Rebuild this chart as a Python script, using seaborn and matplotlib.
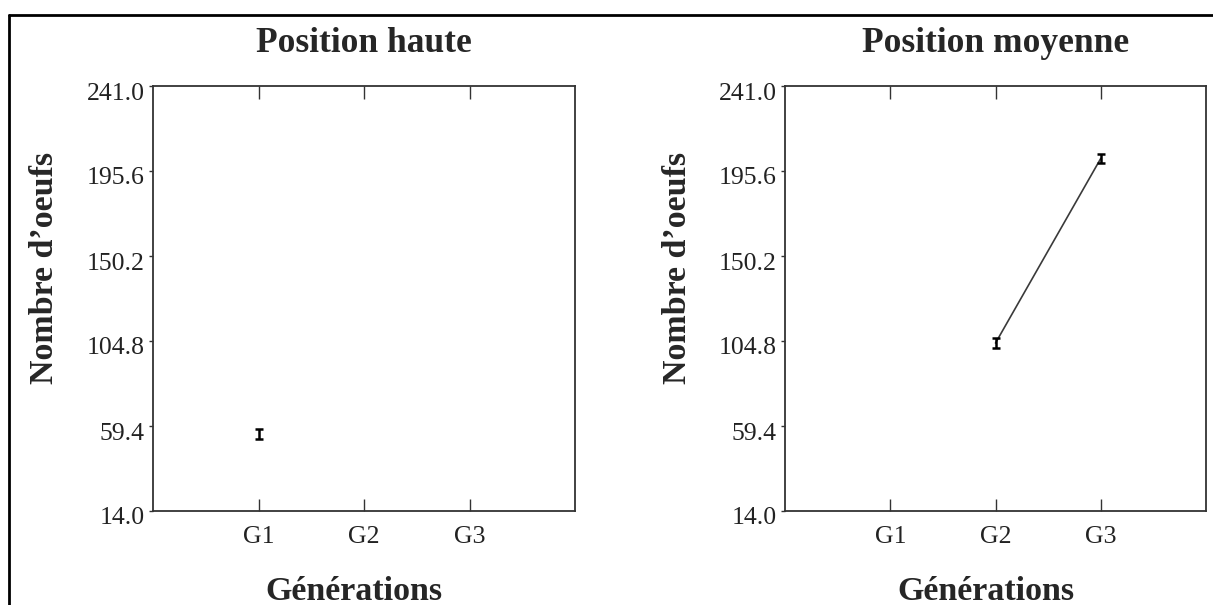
import numpy as np
import pandas as pd
import matplotlib
matplotlib.use("Agg")
import matplotlib.pyplot as plt
import matplotlib.transforms as mtransforms
from matplotlib.lines import Line2D
import seaborn as sns

# values
generations = ["G1", "G2", "G3"]
haute_mean = [55.1, np.nan, np.nan]
haute_err = [2.6, np.nan, np.nan]
moyenne_mean = [np.nan, 103.7, 202.3]
moyenne_err = [np.nan, 2.6, 2.4]
y_ticks = [14.0, 59.4, 104.8, 150.2, 195.6, 241.0]
panel_titles = ["Position haute", "Position moyenne"]

sns.set_style("ticks")
plt.rcParams['font.family'] = ['Liberation Serif', 'DejaVu Serif']

W, H = 1213, 605
fig = plt.figure(figsize=(W / 100, H / 100), dpi=100)

# axes boxes in pixels: left, top, right, bottom
boxes = [(153, 86, 575, 511), (785, 86, 1206, 511)]
series = [(haute_mean, haute_err), (moyenne_mean, moyenne_err)]
pos = np.arange(1, len(generations) + 1)

for box, (means, errs), title in zip(boxes, series, panel_titles):
    l, t, r, b = box
    ax = fig.add_axes([l / W, (H - b) / H, (r - l) / W, (b - t) / H])
    df = pd.DataFrame({"pos": pos, "mean": means, "err": errs}).dropna()

    sns.lineplot(data=df, x="pos", y="mean", ax=ax, color="#3a3a3a",
                 linewidth=1.2, estimator=None)
    ax.errorbar(df["pos"], df["mean"], yerr=df["err"], fmt="none",
                ecolor="black", elinewidth=1.8, capsize=3, capthick=1.8)

    ax.set_xlim(0, 4)
    ax.set_ylim(y_ticks[0], y_ticks[-1])
    ax.set_xticks(pos)
    ax.set_xticklabels(generations)
    ax.set_yticks(y_ticks)
    ax.set_yticklabels([f"{v:.1f}" for v in y_ticks])
    ax.set_xlabel("")
    ax.set_ylabel("")

    ax.tick_params(axis="x", which="both", direction="in", length=9, width=1,
                   top=True, bottom=True, labelsize=18.5, pad=11, colors="#333333",
                   labelcolor="#222222")
    ax.tick_params(axis="y", direction="out", length=3, width=1, pad=3,
                   labelsize=18.5, colors="#333333", labelcolor="#222222")
    # labels sit a bit below their ticks in the original
    off = mtransforms.ScaledTranslation(0, -5 / 100, fig.dpi_scale_trans)
    for lab in ax.get_yticklabels():
        lab.set_transform(lab.get_transform() + off)

    for sp in ax.spines.values():
        sp.set_color("#333333")
        sp.set_linewidth(1.3)

    ax.text(0.5, 1 + (t - 52) / (b - t), title, transform=ax.transAxes,
            ha="center", va="baseline", fontsize=25.5, fontweight="bold")
    ax.text((354 - 153) / 422, -(600 - b) / (b - t), "Générations",
            transform=ax.transAxes, ha="center", va="baseline",
            fontsize=24.5, fontweight="bold")
    ax.text(-(l - 45 - (l - 153) * 0) / (r - l) if False else -(153 - 45) / 422,
            (b - 268) / (b - t), "Nombre d’oeufs", transform=ax.transAxes,
            rotation=90, ha="center", va="center", fontsize=24.5,
            fontweight="bold")

# frame around the whole picture (left and top edges visible)
fig.add_artist(Line2D([9 / W, 9 / W], [0, (H - 15) / H], color="black",
                      linewidth=2, transform=fig.transFigure))
fig.add_artist(Line2D([9 / W, 1], [(H - 15) / H, (H - 15) / H], color="black",
                      linewidth=2, transform=fig.transFigure))

fig.savefig("out.png", dpi=100)
